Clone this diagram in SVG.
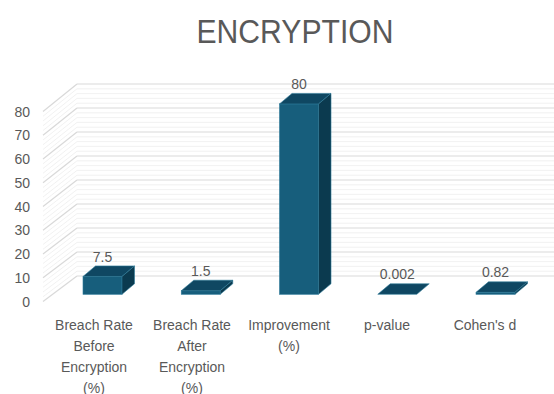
<svg xmlns="http://www.w3.org/2000/svg" width="554" height="394" viewBox="0 0 554 394">
<style>
.t{font-family:"Liberation Sans",Arial,sans-serif;fill:#595959}
.ax{font-size:14px;text-anchor:end}
.val{font-size:14px;text-anchor:middle}
.cat{font-size:14px;text-anchor:middle}
.maj{stroke:#d9d9d9;stroke-width:1.2;fill:none}
.min{stroke:#eeeeee;stroke-width:0.8;fill:none}
.front{fill:#175e7c;stroke:#2d7a99;stroke-width:0.6}
.top{fill:#0f4762;stroke:#2d7a99;stroke-width:0.6}
.side{fill:#0b3a4f;stroke:#2d7a99;stroke-width:0.6}
</style>
<rect width="554" height="394" fill="#ffffff"/>
<text class="t" x="295" y="43.3" font-size="34" text-anchor="middle" textLength="197" lengthAdjust="spacingAndGlyphs">ENCRYPTION</text>
<g id="gridlines">
<g class="min">
<path d="M77 271.2H554M77 266.4H554M77 261.6H554M77 256.8H554M77 247.2H554M77 242.4H554M77 237.6H554M77 232.8H554M77 223.2H554M77 218.4H554M77 213.6H554M77 208.8H554M77 199.2H554M77 194.4H554M77 189.6H554M77 184.8H554M77 175.2H554M77 170.4H554M77 165.6H554M77 160.8H554M77 151.2H554M77 146.4H554M77 141.6H554M77 136.8H554M77 127.2H554M77 122.4H554M77 117.6H554M77 112.8H554M77 103.2H554M77 98.4H554M77 93.6H554M77 88.8H554"/>
<path d="M43 296.75L77 271.2M43 292L77 266.4M43 287.25L77 261.6M43 282.5L77 256.8M43 273L77 247.2M43 268.25L77 242.4M43 263.5L77 237.6M43 258.75L77 232.8M43 249.25L77 223.2M43 244.5L77 218.4M43 239.75L77 213.6M43 235L77 208.8M43 225.5L77 199.2M43 220.75L77 194.4M43 216L77 189.6M43 211.25L77 184.8M43 201.75L77 175.2M43 197L77 170.4M43 192.25L77 165.6M43 187.5L77 160.8M43 178L77 151.2M43 173.25L77 146.4M43 168.5L77 141.6M43 163.75L77 136.8M43 154.25L77 127.2M43 149.5L77 122.4M43 144.75L77 117.6M43 140L77 112.8M43 130.5L77 103.2M43 125.75L77 98.4M43 121L77 93.6M43 116.25L77 88.8"/>
</g>
<g class="maj">
<path d="M77 276H554M77 252H554M77 228H554M77 204H554M77 180H554M77 156H554M77 132H554M77 108H554M77 84H554"/>
<path d="M43 301.5L77 276M43 277.75L77 252M43 254L77 228M43 230.25L77 204M43 206.5L77 180M43 182.75L77 156M43 159L77 132M43 135.25L77 108M43 111.5L77 84"/>
</g>
</g>
<g id="axis">
<text class="t ax" x="30" y="306.5">0</text>
<text class="t ax" x="30" y="282.75">10</text>
<text class="t ax" x="30" y="259">20</text>
<text class="t ax" x="30" y="235.25">30</text>
<text class="t ax" x="30" y="211.5">40</text>
<text class="t ax" x="30" y="187.75">50</text>
<text class="t ax" x="30" y="164">60</text>
<text class="t ax" x="30" y="140.25">70</text>
<text class="t ax" x="30" y="116.5">80</text>
</g>
<g id="bar-before">
<rect class="front" x="83" y="276.45" width="39" height="17.85"/>
<polygon class="top" points="83,276.45 122,276.45 134.5,265.95 95.5,265.95"/>
<polygon class="side" points="122,276.45 122,294.3 134.5,283.8 134.5,265.95"/>
<text class="t val" x="102.5" y="261.5">7.5</text>
</g>
<g id="bar-after">
<rect class="front" x="181.25" y="290.73" width="39" height="3.57"/>
<polygon class="top" points="181.25,290.73 220.25,290.73 232.75,280.23 193.75,280.23"/>
<polygon class="side" points="220.25,290.73 220.25,294.3 232.75,283.8 232.75,280.23"/>
<text class="t val" x="200.75" y="275.7">1.5</text>
</g>
<g id="bar-improvement">
<rect class="front" x="279.5" y="103.9" width="39" height="190.4"/>
<polygon class="top" points="279.5,103.9 318.5,103.9 331,93.4 292,93.4"/>
<polygon class="side" points="318.5,103.9 318.5,294.3 331,283.8 331,93.4"/>
<text class="t val" x="299" y="89">80</text>
</g>
<g id="bar-pvalue">
<polygon class="top" points="377.75,294.3 416.75,294.3 429.25,283.8 390.25,283.8"/>
<text class="t val" x="397.25" y="279.3">0.002</text>
</g>
<g id="bar-cohen">
<rect class="front" x="476" y="292.35" width="39" height="1.95"/>
<polygon class="top" points="476,292.35 515,292.35 527.5,281.85 488.5,281.85"/>
<polygon class="side" points="515,292.35 515,294.3 527.5,283.8 527.5,281.85"/>
<text class="t val" x="495.5" y="277.3">0.82</text>
</g>
<g id="categories">
<text class="t cat" x="94"><tspan x="94" y="330">Breach Rate</tspan><tspan x="94" y="351">Before</tspan><tspan x="94" y="372">Encryption</tspan><tspan x="94" y="393">(%)</tspan></text>
<text class="t cat" x="192"><tspan x="192" y="330">Breach Rate</tspan><tspan x="192" y="351">After</tspan><tspan x="192" y="372">Encryption</tspan><tspan x="192" y="393">(%)</tspan></text>
<text class="t cat" x="289"><tspan x="289" y="330">Improvement</tspan><tspan x="289" y="351">(%)</tspan></text>
<text class="t cat" x="387" y="330">p-value</text>
<text class="t cat" x="485" y="330">Cohen's d</text>
</g>
</svg>
